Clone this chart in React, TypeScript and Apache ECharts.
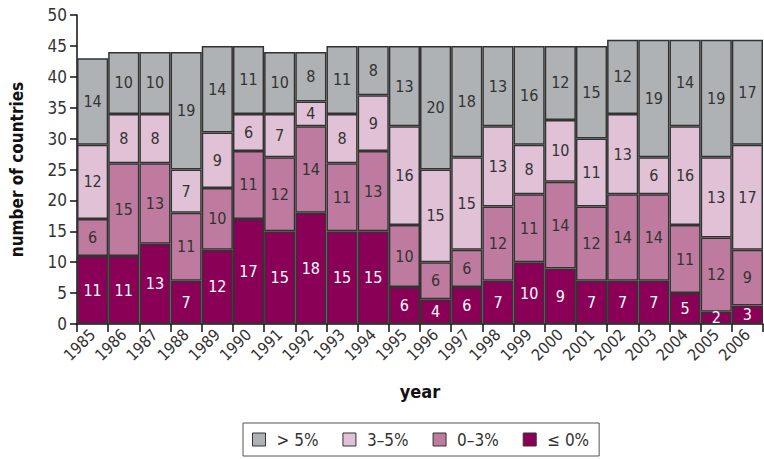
import React, { useEffect, useRef } from "react";
import * as echarts from "echarts";

const years = ["1985","1986","1987","1988","1989","1990","1991","1992","1993","1994","1995","1996","1997","1998","1999","2000","2001","2002","2003","2004","2005","2006"];
const le0 = [11,11,13,7,12,17,15,18,15,15,6,4,6,7,10,9,7,7,7,5,2,3];
const r0to3 = [6,15,13,11,10,11,12,14,11,13,10,6,6,12,11,14,12,14,14,11,12,9];
const r3to5 = [12,8,8,7,9,6,7,4,8,9,16,15,15,13,8,10,11,13,6,16,13,17];
const gt5 = [14,10,10,19,14,11,10,8,11,8,13,20,18,13,16,12,15,12,19,14,19,17];
const yTicks = { min: 0, max: 50, interval: 5 };

const FONT = "'Liberation Sans Narrow', 'DejaVu Sans Condensed', 'Liberation Sans', sans-serif";

export default function App() {
  const ref = useRef<HTMLDivElement>(null);
  useEffect(() => {
    const chart = echarts.init(ref.current!, undefined, { renderer: "svg" });
    const mk = (name: string, data: number[], color: string, labelColor: string) => ({
      name,
      type: "bar",
      stack: "all",
      data,
      barCategoryGap: "0%",
      itemStyle: { color, borderColor: "#333", borderWidth: 1.5 },
      label: { show: true, position: "inside", color: labelColor, fontSize: 16, fontFamily: FONT },
    });
    chart.setOption({
      animation: false,
      textStyle: { fontFamily: FONT },
      grid: { left: 70, right: 1, top: 15, bottom: 135 },
      legend: {
        bottom: 3,
        left: 243,
        icon: "rect",
        data: ["> 5%", "3–5%", "0–3%", "≤ 0%"],
        itemWidth: 13,
        itemHeight: 13,
        itemGap: 24,
        borderColor: "#555",
        borderWidth: 1,
        padding: [8, 10, 8, 9],
        textStyle: { fontSize: 17, color: "#333", fontFamily: FONT, padding: [0, 0, 0, 6] },
        itemStyle: { borderColor: "#333", borderWidth: 1 },
      },
      xAxis: {
        type: "category",
        data: years,
        name: "year",
        nameLocation: "middle",
        nameGap: 58,
        nameTextStyle: { fontSize: 18, fontWeight: "bold", color: "#111", fontFamily: FONT },
        axisLine: { lineStyle: { color: "#111", width: 1.5 } },
        axisTick: { show: true, length: 8, lineStyle: { color: "#111", width: 1.5 } },
        axisLabel: { rotate: 45, fontSize: 16, color: "#333", margin: 8, fontFamily: FONT },
      },
      yAxis: {
        type: "value",
        ...yTicks,
        name: "number of countries",
        nameLocation: "middle",
        nameGap: 52,
        nameTextStyle: { fontSize: 17, fontWeight: "bold", color: "#111", fontFamily: FONT },
        axisLine: { show: true, lineStyle: { color: "#111", width: 1.5 } },
        axisTick: { show: true, length: 7, lineStyle: { color: "#111", width: 1.5 } },
        axisLabel: { fontSize: 17, color: "#333", margin: 10, fontFamily: FONT },
        splitLine: { show: false },
      },
      series: [
        mk("≤ 0%", le0, "#8b0057", "#fff"),
        mk("0–3%", r0to3, "#bf7b9f", "#333"),
        mk("3–5%", r3to5, "#e1c1d6", "#333"),
        mk("> 5%", gt5, "#aeb2b4", "#333"),
      ],
    });
    return () => chart.dispose();
  }, []);
  return <div ref={ref} style={{ position: "absolute", left: 0, top: 0, width: 764, height: 459 }} />;
}
